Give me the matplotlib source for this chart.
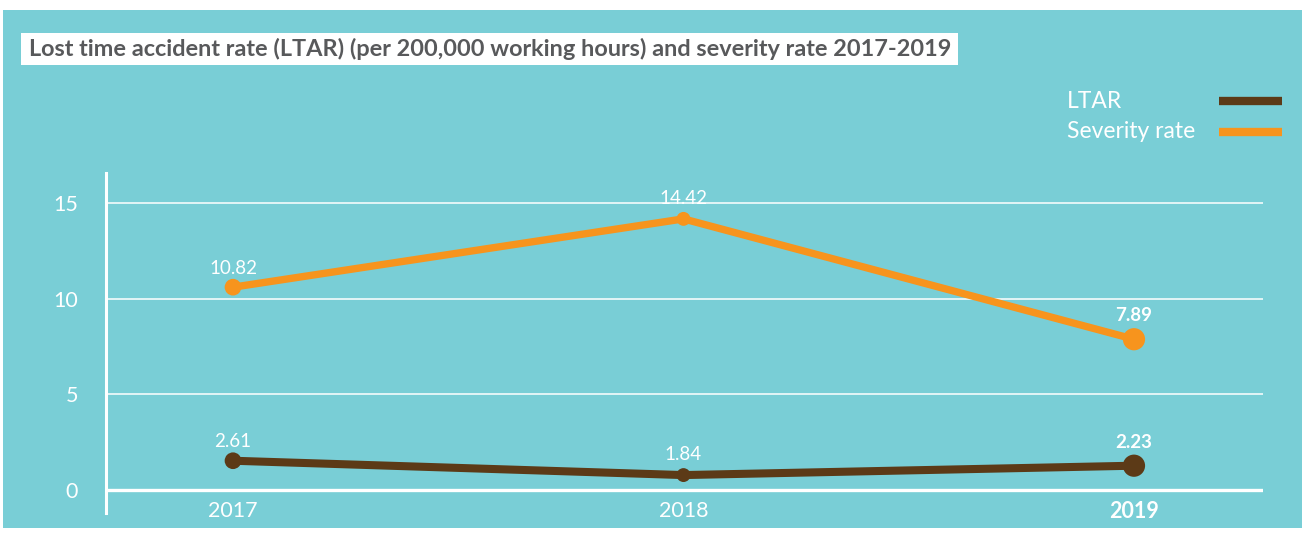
import matplotlib.pyplot as plt
import matplotlib.patches as patches
from matplotlib.lines import Line2D

# data
years = ['2017', '2018', '2019']
ltar_labels = ['2.61', '1.84', '2.23']
severity_labels = ['10.82', '14.42', '7.89']
# heights at which the points are drawn in the original
ltar_drawn = [1.53, 0.78, 1.27]
severity_drawn = [10.6, 14.17, 7.88]
yticks = [0, 5, 10, 15]

TEAL = '#79CED6'
ORANGE = '#F7941D'
BROWN = '#5C3A17'
GREY = '#58595B'
W, H = 1302, 538

plt.rcParams['font.family'] = ['Lato', 'DejaVu Sans']

fig = plt.figure(figsize=(W / 100, H / 100), dpi=100)
fig.patch.set_facecolor('white')

# teal panel
fig.add_artist(patches.Rectangle((3 / W, 1 - 528 / H), (W - 3) / W, (528 - 10) / H,
                                 transform=fig.transFigure, facecolor=TEAL,
                                 edgecolor='none', zorder=-10))
# title box
fig.add_artist(patches.Rectangle((21 / W, 1 - 65 / H), (958 - 21) / W, 32 / H,
                                 transform=fig.transFigure, facecolor='white',
                                 edgecolor='none', zorder=-5))
fig.text(29 / W, 1 - 49 / H,
         'Lost time accident rate (LTAR) (per 200,000 working hours) and severity rate 2017-2019',
         fontsize=16.9, fontweight='bold', color=GREY, va='center', ha='left')

# legend drawn by hand: text left, swatch right
for i, (name, col) in enumerate([('LTAR', BROWN), ('Severity rate', ORANGE)]):
    yc = 1 - (101 + 31 * i) / H
    fig.text(1067 / W, yc, name, fontsize=16.5, color='white',
             va='center', ha='left')
    fig.add_artist(Line2D([1219 / W, 1282 / W], [yc, yc], transform=fig.transFigure,
                          color=col, lw=6, solid_capstyle='butt'))

ax = fig.add_axes([106 / W, 1 - 513 / H, (1263 - 106) / W, (513 - 173) / H])
ax.set_facecolor('none')
ax.set_xlim(-0.2819, 2.2864)
ax.set_ylim(-1.202, 16.568)

for s in ['top', 'right', 'bottom']:
    ax.spines[s].set_visible(False)
ax.spines['left'].set_color('white')
ax.spines['left'].set_linewidth(2.2)

for t in yticks:
    ax.axhline(t, color='white', lw=2.4 if t == 0 else 1.1, zorder=1)

ax.set_yticks(yticks)
ax.set_yticklabels([str(t) for t in yticks])
ax.tick_params(axis='y', length=0, pad=20, labelsize=15.5, labelcolor='white')
ax.set_xticks([])

x = list(range(len(years)))
marker_sizes = [12, 10, 16]

ax.plot(x, severity_drawn, color=ORANGE, lw=5.3, zorder=3, solid_capstyle='round')
ax.scatter(x, severity_drawn, s=[m ** 2 for m in marker_sizes], color=ORANGE, zorder=4,
           linewidths=0)
ax.plot(x, ltar_drawn, color=BROWN, lw=5.8, zorder=3, solid_capstyle='round')
ax.scatter(x, ltar_drawn, s=[m ** 2 for m in marker_sizes], color=BROWN, zorder=4,
           linewidths=0)

offsets = [13.7, 14.5, 17]
for i in x:
    bold = i == len(years) - 1
    for vals, labs in [(severity_drawn, severity_labels), (ltar_drawn, ltar_labels)]:
        ax.annotate(labs[i], xy=(i, vals[i]), xytext=(0, offsets[i]),
                    textcoords='offset points', ha='center', va='center',
                    fontsize=13.5, color='white',
                    fontweight='bold' if bold else 'normal')
    ax.text(i, -1.1, years[i], ha='center', va='center', fontsize=15.5, color='white',
            fontweight='bold' if bold else 'normal')

fig.savefig('out.png', dpi=100, facecolor='white')
